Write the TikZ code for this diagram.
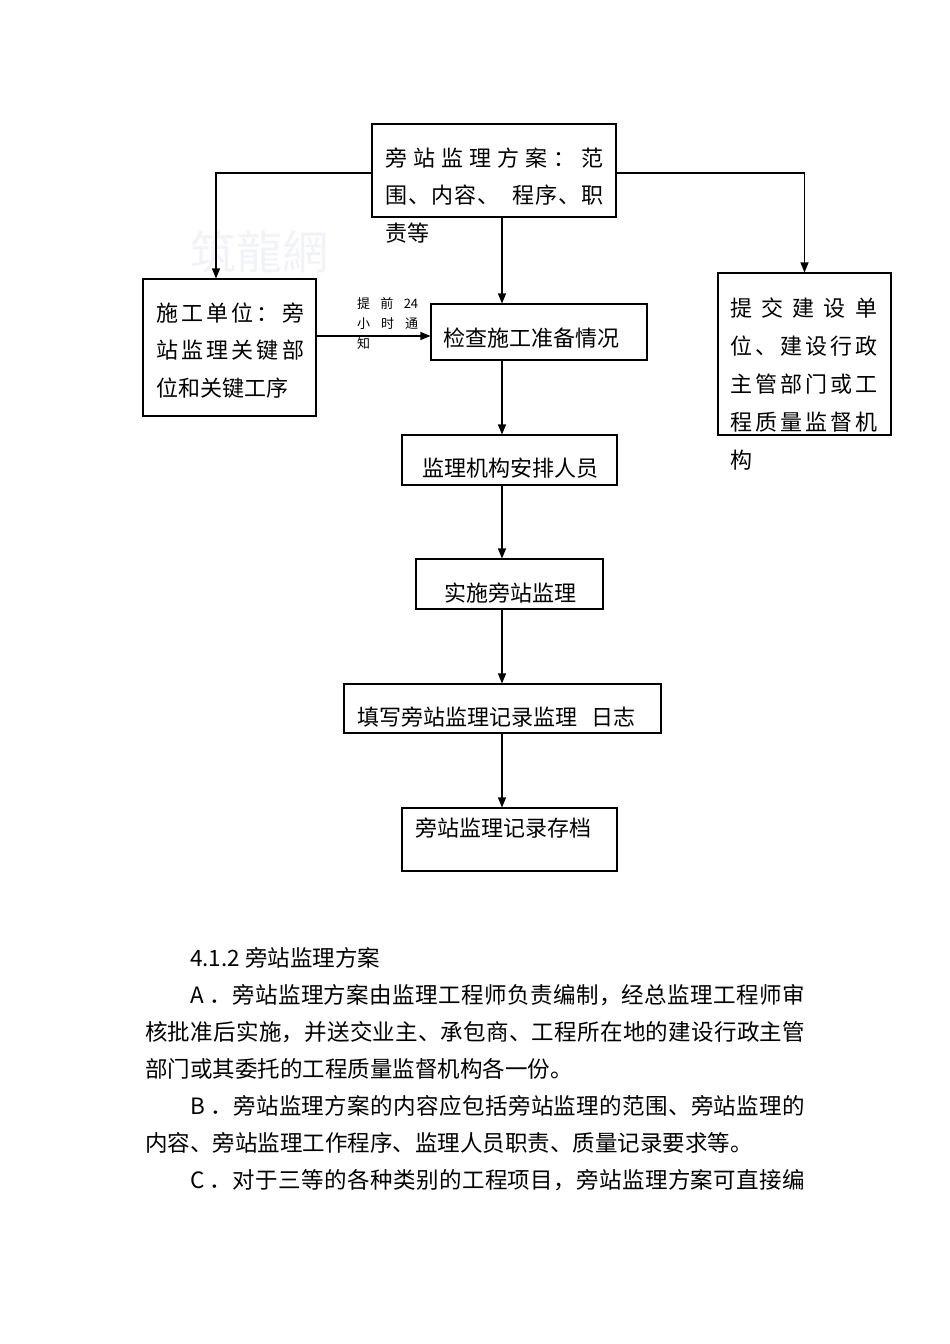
\documentclass[tikz,border=0pt]{standalone}
\usepackage{fontspec}
\setmainfont{Noto Sans CJK SC}
\usetikzlibrary{arrows.meta}
\definecolor{wmgray}{RGB}{241,243,247}
\newcommand{\hf}{\hspace{0pt plus 1fil}}
\tikzset{
  box/.style={draw, line width=1.1pt, rectangle, inner sep=0pt},
  txt/.style={anchor=base west, inner sep=0pt, font=\fontsize{22}{37.5}\selectfont},
  arr/.style={line width=1.1pt, -{Triangle[length=10pt,width=8pt]}},
  ln/.style={line width=1.1pt}
}
\begin{document}
\begin{tikzpicture}[x=1pt,y=-1pt]
\useasboundingbox (0,0) rectangle (950,1344);
% watermark
\node[inner sep=0pt, text=wmgray, font=\fontsize{46}{46}\selectfont] (wm) at (259,252) {筑龍網};
% boxes
\node[box, minimum width=244pt, minimum height=93pt] (plan) at (494,170.5) {};
\node[box, minimum width=173pt, minimum height=137pt] (site) at (229.5,347.5) {};
\node[box, minimum width=173pt, minimum height=162pt] (submit) at (804.5,354) {};
\node[box, minimum width=216pt, minimum height=56pt] (check) at (539,332) {};
\node[box, minimum width=215pt, minimum height=50pt] (arrange) at (509.5,460) {};
\node[box, minimum width=187pt, minimum height=50pt] (implement) at (509.5,584) {};
\node[box, minimum width=317pt, minimum height=49pt] (record) at (502.5,708.5) {};
\node[box, minimum width=215pt, minimum height=63pt] (archive) at (509.5,839.5) {};
% texts
\node[txt] (plantxt) at (385,166) {\parbox[t]{240pt}{\makebox[218pt][s]{旁\hf 站\hf 监\hf 理\hf 方\hf 案\hf ：\hf 范}\\\makebox[218pt][s]{围\hf 、\hf 内\hf 容\hf 、\hspace{12pt}\hf 程\hf 序\hf 、\hf 职}\\责等}};
\node[txt] (sitetxt) at (156,321) {\parbox[t]{160pt}{\makebox[148pt][s]{施\hf 工\hf 单\hf 位\hf ：\hf 旁}\\\makebox[148pt][s]{站\hf 监\hf 理\hf 关\hf 键\hf 部}\\位和关键工序}};
\node[txt, font=\fontsize{22}{38}\selectfont] (submittxt) at (730,316) {\parbox[t]{160pt}{\makebox[147pt][s]{提\hf 交\hf 建\hf 设\hf 单}\\\makebox[147pt][s]{位\hf 、\hf 建\hf 设\hf 行\hf 政}\\\makebox[147pt][s]{主\hf 管\hf 部\hf 门\hf 或\hf 工}\\\makebox[147pt][s]{程\hf 质\hf 量\hf 监\hf 督\hf 机}\\构}};
\node[txt] (checktxt) at (443,346) {检查施工准备情况};
\node[txt] (arrangetxt) at (422,476) {监理机构安排人员};
\node[txt] (implementtxt) at (444,601) {实施旁站监理};
\node[txt] (recordtxt) at (357,725) {填写旁站监理记录监理\hspace{14pt}日志};
\node[txt] (archivetxt) at (415,836) {旁站监理记录存档};
\node[txt, font=\fontsize{13}{20}\selectfont] (notice) at (357,308) {\parbox[t]{70pt}{\makebox[61pt][s]{提\hf 前\hf 24}\\\makebox[61pt][s]{小\hf 时\hf 通}\\知}};
% connectors
\coordinate (spine) at (502,0);
\coordinate (leftdrop) at (216,0);
\coordinate (branch) at (0,173);
\coordinate (notify) at (0,336);
\draw[arr] (plan.west |- branch) -| (leftdrop |- site.north);
\draw[arr] (plan.east |- branch) -| (submit.north);
\draw[arr] (plan.south -| spine) -- (check.north -| spine);
\draw[arr] (site.east |- notify) -- (check.west |- notify);
\draw[arr] (check.south -| spine) -- (arrange.north -| spine);
\draw[arr] (arrange.south -| spine) -- (implement.north -| spine);
\draw[arr] (implement.south -| spine) -- (record.north -| spine);
\draw[arr] (record.south -| spine) -- (archive.north -| spine);
% body text
\node[anchor=base west, inner sep=0pt, font=\fontsize{22.5}{37}\selectfont] (body) at (145,966) {\parbox[t]{660pt}{\parindent=45pt\XeTeXlinebreaklocale "zh"\XeTeXlinebreakskip=0pt plus 4pt\relax
4.1.2 旁站监理方案\par
A ．旁站监理方案由监理工程师负责编制，经总监理工程师审\linebreak 核批准后实施，并送交业主、承包商、工程所在地的建设行政主管\linebreak 部门或其委托的工程质量监督机构各一份。\par
B ．旁站监理方案的内容应包括旁站监理的范围、旁站监理的\linebreak 内容、旁站监理工作程序、监理人员职责、质量记录要求等。\par
C ．对于三等的各种类别的工程项目，旁站监理方案可直接编\parfillskip=0pt\par}};
\end{tikzpicture}
\end{document}
